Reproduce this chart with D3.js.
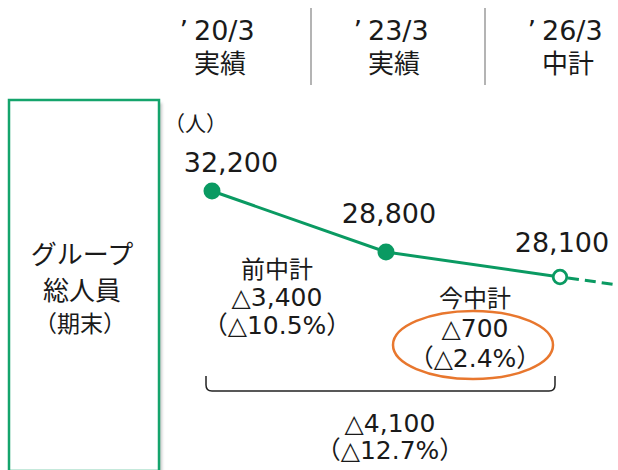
<!DOCTYPE html>
<html>
<head>
<meta charset="utf-8">
<script src="https://cdn.jsdelivr.net/npm/d3@7"></script>
<style>
  body { margin: 0; background: #fff; }
  svg { display: block; }
  text { font-family: "DejaVu Sans", "Noto Sans CJK JP", sans-serif; fill: #1a1a1a; }
  .jp { font-family: "Noto Sans CJK JP", sans-serif; }
</style>
</head>
<body>
<svg id="chart" width="618" height="470"></svg>
<script>
// data
const periods = ["20/3", "23/3", "26/3"];
const periodKinds = ["実績", "実績", "中計"];
const headcount = [32200, 28800, 28100];
const isPlan = [false, false, true];
const rowTitle = ["グループ", "総人員"];
const rowNote = "（期末）";
const unitLabel = "（人）";
const prevPlanChange = ["前中計", "△3,400", "（△10.5%）"];
const currPlanChange = ["今中計", "△700", "（△2.4%）"];
const totalChange = ["△4,100", "（△12.7%）"];

const green = "#0a9a62";
const boxGreen = "#14a46c";
const orange = "#e8772e";

const svg = d3.select("#chart");

const x = d3.scalePoint().domain(periods).range([212, 560]);
// piecewise scale so that each point sits where the reference puts it
const y = d3.scaleLinear().domain([28100, 28800, 32200]).range([277, 252, 191]);

const fmt = d3.format(",");

// left title box with a soft shadow
const defs = svg.append("defs");
defs.append("filter").attr("id", "shadow")
  .append("feGaussianBlur").attr("stdDeviation", 1.5);

svg.append("rect")
  .attr("x", 12).attr("y", 103).attr("width", 150).attr("height", 380)
  .attr("fill", "#c8c8c8").attr("filter", "url(#shadow)");
svg.append("rect")
  .attr("x", 9).attr("y", 100).attr("width", 150).attr("height", 371)
  .attr("fill", "#fff").attr("stroke", boxGreen).attr("stroke-width", 2.5);

svg.append("g").selectAll("text")
  .data(rowTitle)
  .join("text")
  .attr("class", "jp")
  .attr("x", 82)
  .attr("y", (d, i) => 264 + i * 36)
  .attr("text-anchor", "middle")
  .attr("font-size", 26)
  .text(d => d);

svg.append("text")
  .attr("class", "jp")
  .attr("x", 80).attr("y", 332)
  .attr("text-anchor", "middle")
  .attr("font-size", 23)
  .text(rowNote);

// header
const header = svg.append("g");
periods.forEach((p, i) => {
  const cx = x(p) + 8;
  const t = header.append("text")
    .attr("x", cx - 3).attr("y", 40)
    .attr("text-anchor", "middle")
    .attr("font-size", 27);
  t.append("tspan").text("’");
  t.append("tspan").attr("dx", 6).text(p);
  header.append("text")
    .attr("class", "jp")
    .attr("x", cx).attr("y", 73)
    .attr("text-anchor", "middle")
    .attr("font-size", 26)
    .text(periodKinds[i]);
});
header.selectAll("line")
  .data(periods.slice(1))
  .join("line")
  .attr("x1", d => x(d) - 75).attr("x2", d => x(d) - 75)
  .attr("y1", 8).attr("y2", 85)
  .attr("stroke", "#b4b4b4").attr("stroke-width", 2);

svg.append("text")
  .attr("class", "jp")
  .attr("x", 164).attr("y", 131)
  .attr("font-size", 21)
  .text(unitLabel);

// line
const line = d3.line()
  .x((d, i) => x(periods[i]))
  .y(d => y(d));

svg.append("path")
  .datum(headcount)
  .attr("d", line)
  .attr("fill", "none")
  .attr("stroke", green)
  .attr("stroke-width", 3);

// dashed trend beyond the plan year
const lastX = x(periods[2]), lastY = y(headcount[2]);
svg.append("line")
  .attr("x1", lastX + 8).attr("y1", lastY + 1)
  .attr("x2", lastX + 62).attr("y2", lastY + 8.5)
  .attr("stroke", green).attr("stroke-width", 3)
  .attr("stroke-dasharray", "11,6");

svg.append("g").selectAll("circle")
  .data(headcount)
  .join("circle")
  .attr("cx", (d, i) => x(periods[i]))
  .attr("cy", d => y(d))
  .attr("r", (d, i) => isPlan[i] ? 6.8 : 8.5)
  .attr("fill", (d, i) => isPlan[i] ? "#fff" : green)
  .attr("stroke", green)
  .attr("stroke-width", (d, i) => isPlan[i] ? 2.8 : 0);

// value labels
const labelOffset = [[19, -19], [3, -29], [2, -25]];
svg.append("g").selectAll("text")
  .data(headcount)
  .join("text")
  .attr("x", (d, i) => x(periods[i]) + labelOffset[i][0])
  .attr("y", (d, i) => y(d) + labelOffset[i][1])
  .attr("text-anchor", "middle")
  .attr("font-size", 27)
  .text(d => fmt(d));

// change annotations
function block (lines, cx, y0, step, sizes) {
  svg.append("g").selectAll("text")
    .data(lines)
    .join("text")
    .attr("x", cx)
    .attr("y", (d, i) => y0 + i * step)
    .attr("text-anchor", "middle")
    .attr("font-size", (d, i) => sizes[i])
    .text(d => d);
}
block(prevPlanChange, 277, 278, 28, [24, 25, 25]);
block(currPlanChange, 475, 307, 30, [24, 25, 25]);
block(totalChange, 390, 432, 27, [25, 25]);

svg.append("ellipse")
  .attr("cx", (x(periods[1]) + x(periods[2])) / 2)
  .attr("cy", 345)
  .attr("rx", 80).attr("ry", 34)
  .attr("fill", "none")
  .attr("stroke", orange).attr("stroke-width", 2.5);

// bracket under the whole span
const bx0 = x(periods[0]) - 6, bx1 = x(periods[2]) - 5;
svg.append("path")
  .attr("d", `M${bx0},376 v9 q0,6 6,6 H${bx1 - 6} q6,0 6,-6 v-9`)
  .attr("fill", "none")
  .attr("stroke", "#222")
  .attr("stroke-width", 1.5);
</script>
</body>
</html>
